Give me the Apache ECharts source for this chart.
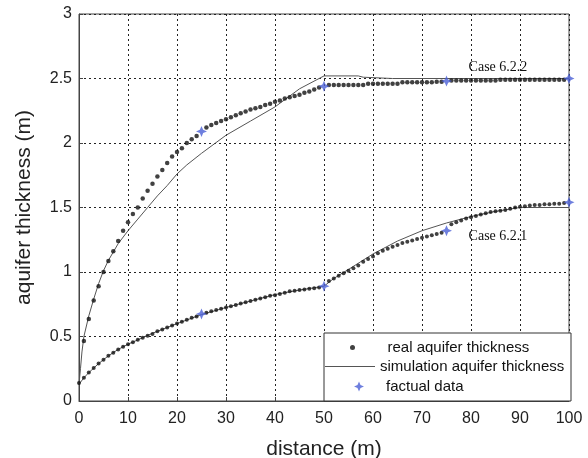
<!DOCTYPE html>
<html>
<head>
<meta charset="utf-8">
<title>aquifer thickness</title>
<script src="https://cdn.jsdelivr.net/npm/echarts@6/dist/echarts.min.js"></script>
<style>
  html, body { margin: 0; padding: 0; background: #fff; }
  #chart { width: 588px; height: 458px; }
</style>
</head>
<body>
<div id="chart"></div>
<script>
// distance (m) for the measured dots, one every metre
const distance = Array.from({ length: 101 }, (_, i) => i)

// real aquifer thickness, Case 6.2.2 (upper curve), index = distance
const realUpper = [
  null, 0.465, 0.635, 0.78, 0.89, 1.0, 1.085, 1.16, 1.24, 1.32,
  1.385, 1.45, 1.5, 1.57, 1.63, 1.685, 1.74, 1.79, 1.845, 1.895,
  1.93, 1.96, 2.0, 2.03, 2.055, null, 2.12, 2.14, 2.155, 2.17,
  2.185, 2.2, 2.215, 2.23, 2.245, 2.26, 2.27, 2.28, 2.295, 2.305,
  2.32, 2.33, 2.345, 2.355, 2.365, 2.375, 2.39, 2.4, 2.415, 2.43,
  null, 2.45, 2.45, 2.45, 2.45, 2.45, 2.45, 2.45, 2.45, 2.46,
  2.46, 2.46, 2.46, 2.46, 2.46, 2.46, 2.47, 2.47, 2.47, 2.47,
  2.47, 2.47, 2.47, 2.475, 2.475, null, 2.485, 2.485, 2.485, 2.485,
  2.485, 2.485, 2.485, 2.485, 2.485, 2.485, 2.49, 2.49, 2.49, 2.49,
  2.49, 2.49, 2.49, 2.49, 2.49, 2.49, 2.49, 2.49, 2.49, 2.49,
  null
]

// real aquifer thickness, Case 6.2.1 (lower curve)
const realLower = [
  0.14, 0.18, 0.22, 0.255, 0.29, 0.32, 0.35, 0.375, 0.4, 0.42,
  0.44, 0.455, 0.475, 0.49, 0.505, 0.52, 0.54, 0.555, 0.57, 0.585,
  0.6, 0.615, 0.63, 0.645, 0.655, null, 0.685, 0.695, 0.705, 0.715,
  0.725, 0.735, 0.745, 0.755, 0.765, 0.775, 0.785, 0.795, 0.805, 0.815,
  0.82, 0.83, 0.84, 0.85, 0.855, 0.86, 0.865, 0.87, 0.875, 0.88,
  null, 0.93, 0.95, 0.97, 0.99, 1.01, 1.03, 1.05, 1.08, 1.1,
  1.12, 1.145, 1.165, 1.18, 1.195, 1.21, 1.225, 1.235, 1.245, 1.255,
  1.265, 1.275, 1.285, 1.295, 1.305, null, 1.37, 1.385, 1.4, 1.415,
  1.425, 1.435, 1.445, 1.455, 1.465, 1.47, 1.475, 1.48, 1.49, 1.5,
  1.505, 1.51, 1.515, 1.52, 1.52, 1.525, 1.525, 1.53, 1.53, 1.535,
  null
]

// simulation aquifer thickness
const simUpperX = [0, 0.3, 0.6, 1, 2, 3, 4, 5, 6, 8, 10, 12, 14, 16, 18, 20, 22, 25, 30, 35, 40, 45, 50, 57, 58, 64, 100]
const simUpperY = [0.13, 0.25, 0.38, 0.5, 0.66, 0.79, 0.91, 1.01, 1.09, 1.22, 1.32, 1.41, 1.5, 1.59, 1.67, 1.76, 1.83, 1.92, 2.06, 2.17, 2.28, 2.42, 2.52, 2.52, 2.51, 2.5, 2.5]
const simLowerX = [0, 1, 2, 4, 6, 8, 10, 15, 20, 25, 30, 35, 40, 45, 50, 52, 55, 60, 65, 70, 75, 80, 85, 90, 100]
const simLowerY = [0.13, 0.18, 0.22, 0.29, 0.35, 0.4, 0.44, 0.525, 0.6, 0.67, 0.725, 0.775, 0.825, 0.86, 0.89, 0.95, 1.02, 1.14, 1.24, 1.32, 1.38, 1.43, 1.47, 1.5, 1.5]

// factual data (stars)
const factualX = [25, 50, 75, 100]
const factualUpper = [2.09, 2.44, 2.48, 2.5]
const factualLower = [0.675, 0.89, 1.32, 1.54]

const xTicks = [0, 10, 20, 30, 40, 50, 60, 70, 80, 90, 100]
const yTicks = [0, 0.5, 1, 1.5, 2, 2.5, 3]

const starPath = 'path://M0,-10 L3,-3 L10,0 L3,3 L0,10 L-3,3 L-10,0 L-3,-3 Z'
const starColor = '#4a5fd6'
const dotColor = '#111'
const simColor = '#555'
const labelFont = 'Liberation Sans'

function pairs(xs, ys) {
  return xs.map((x, i) => [x, ys[i]]).filter(p => p[1] != null)
}

const chart = echarts.init(document.getElementById('chart'), null, { renderer: 'canvas' })

const legendText = { fontFamily: labelFont, fontSize: 15, color: '#111' }

chart.setOption({
  animation: false,
  backgroundColor: '#fff',
  grid: {
    left: 79,
    right: 19,
    top: 14,
    bottom: 57,
    outerBoundsMode: 'none',
    show: true,
    borderColor: '#444',
    borderWidth: 1,
    backgroundColor: '#fff'
  },
  xAxis: {
    type: 'value',
    min: xTicks[0],
    max: xTicks[xTicks.length - 1],
    interval: 10,
    name: 'distance (m)',
    nameLocation: 'middle',
    nameGap: 38,
    nameTextStyle: { fontFamily: labelFont, fontSize: 21, color: '#222' },
    axisLine: { lineStyle: { color: '#444', width: 1 } },
    axisTick: { inside: true, length: 4, lineStyle: { color: '#444' } },
    axisLabel: { fontFamily: labelFont, fontSize: 16, color: '#222', margin: 10 },
    splitLine: { show: true, lineStyle: { color: '#222', type: [2, 3], width: 1 } }
  },
  yAxis: {
    type: 'value',
    min: yTicks[0],
    max: yTicks[yTicks.length - 1],
    interval: 0.5,
    name: 'aquifer thickness (m)',
    nameLocation: 'middle',
    nameGap: 44,
    nameTextStyle: { fontFamily: labelFont, fontSize: 21, color: '#222' },
    axisLine: { show: true, lineStyle: { color: '#444', width: 1 } },
    axisTick: { show: true, inside: true, length: 4, lineStyle: { color: '#444' } },
    axisLabel: { fontFamily: labelFont, fontSize: 16, color: '#222', margin: 7 },
    splitLine: { show: true, lineStyle: { color: '#222', type: [2, 3], width: 1 } }
  },
  graphic: [{
    // legend frame, lower right corner of the plot
    type: 'rect',
    z: 1,
    shape: { x: 324, y: 333, width: 247, height: 68 },
    style: { fill: '#fff', stroke: '#333', lineWidth: 1 }
  }],
  legend: [{
    data: [{ name: 'real aquifer thickness', icon: 'circle' }],
    left: 350, top: 340, padding: 0,
    itemWidth: 60, itemHeight: 5,
    textStyle: legendText, z: 5
  }, {
    data: [{ name: 'simulation aquifer thickness', icon: 'rect' }],
    left: 325, top: 359, padding: 0,
    itemWidth: 50, itemHeight: 1,
    textStyle: legendText, z: 5
  }, {
    data: [{ name: 'factual data', icon: starPath }],
    left: 354, top: 379, padding: 0,
    itemWidth: 44, itemHeight: 10,
    textStyle: legendText, z: 5
  }],
  series: [{
    name: 'simulation aquifer thickness',
    type: 'line',
    data: pairs(simUpperX, simUpperY),
    symbol: 'none',
    lineStyle: { color: simColor, width: 1 },
    itemStyle: { color: simColor },
    z: 2
  }, {
    name: 'simulation aquifer thickness',
    type: 'line',
    data: pairs(simLowerX, simLowerY),
    symbol: 'none',
    lineStyle: { color: simColor, width: 1 },
    itemStyle: { color: simColor },
    z: 2
  }, {
    name: 'real aquifer thickness',
    type: 'scatter',
    data: pairs(distance, realUpper),
    symbol: 'circle',
    symbolSize: 4.5,
    itemStyle: { color: dotColor },
    z: 3,
    markPoint: {
      symbol: 'circle',
      symbolSize: 1,
      itemStyle: { color: 'rgba(0,0,0,0)' },
      label: {
        show: true, position: 'inside', formatter: 'Case 6.2.2',
        fontFamily: 'Liberation Serif', fontSize: 14, color: '#111'
      },
      data: [{ coord: [85.5, 2.59] }]
    }
  }, {
    name: 'real aquifer thickness',
    type: 'scatter',
    data: pairs(distance, realLower),
    symbol: 'circle',
    symbolSize: 4,
    itemStyle: { color: dotColor },
    z: 3,
    markPoint: {
      symbol: 'circle',
      symbolSize: 1,
      itemStyle: { color: 'rgba(0,0,0,0)' },
      label: {
        show: true, position: 'inside', formatter: 'Case 6.2.1',
        fontFamily: 'Liberation Serif', fontSize: 14, color: '#111'
      },
      data: [{ coord: [85.5, 1.28] }]
    }
  }, {
    name: 'factual data',
    type: 'scatter',
    data: pairs(factualX, factualUpper),
    symbol: starPath,
    symbolSize: 11,
    itemStyle: { color: starColor },
    z: 4
  }, {
    name: 'factual data',
    type: 'scatter',
    data: pairs(factualX, factualLower),
    symbol: starPath,
    symbolSize: 11,
    itemStyle: { color: starColor },
    z: 4
  }]
})
</script>
</body>
</html>
